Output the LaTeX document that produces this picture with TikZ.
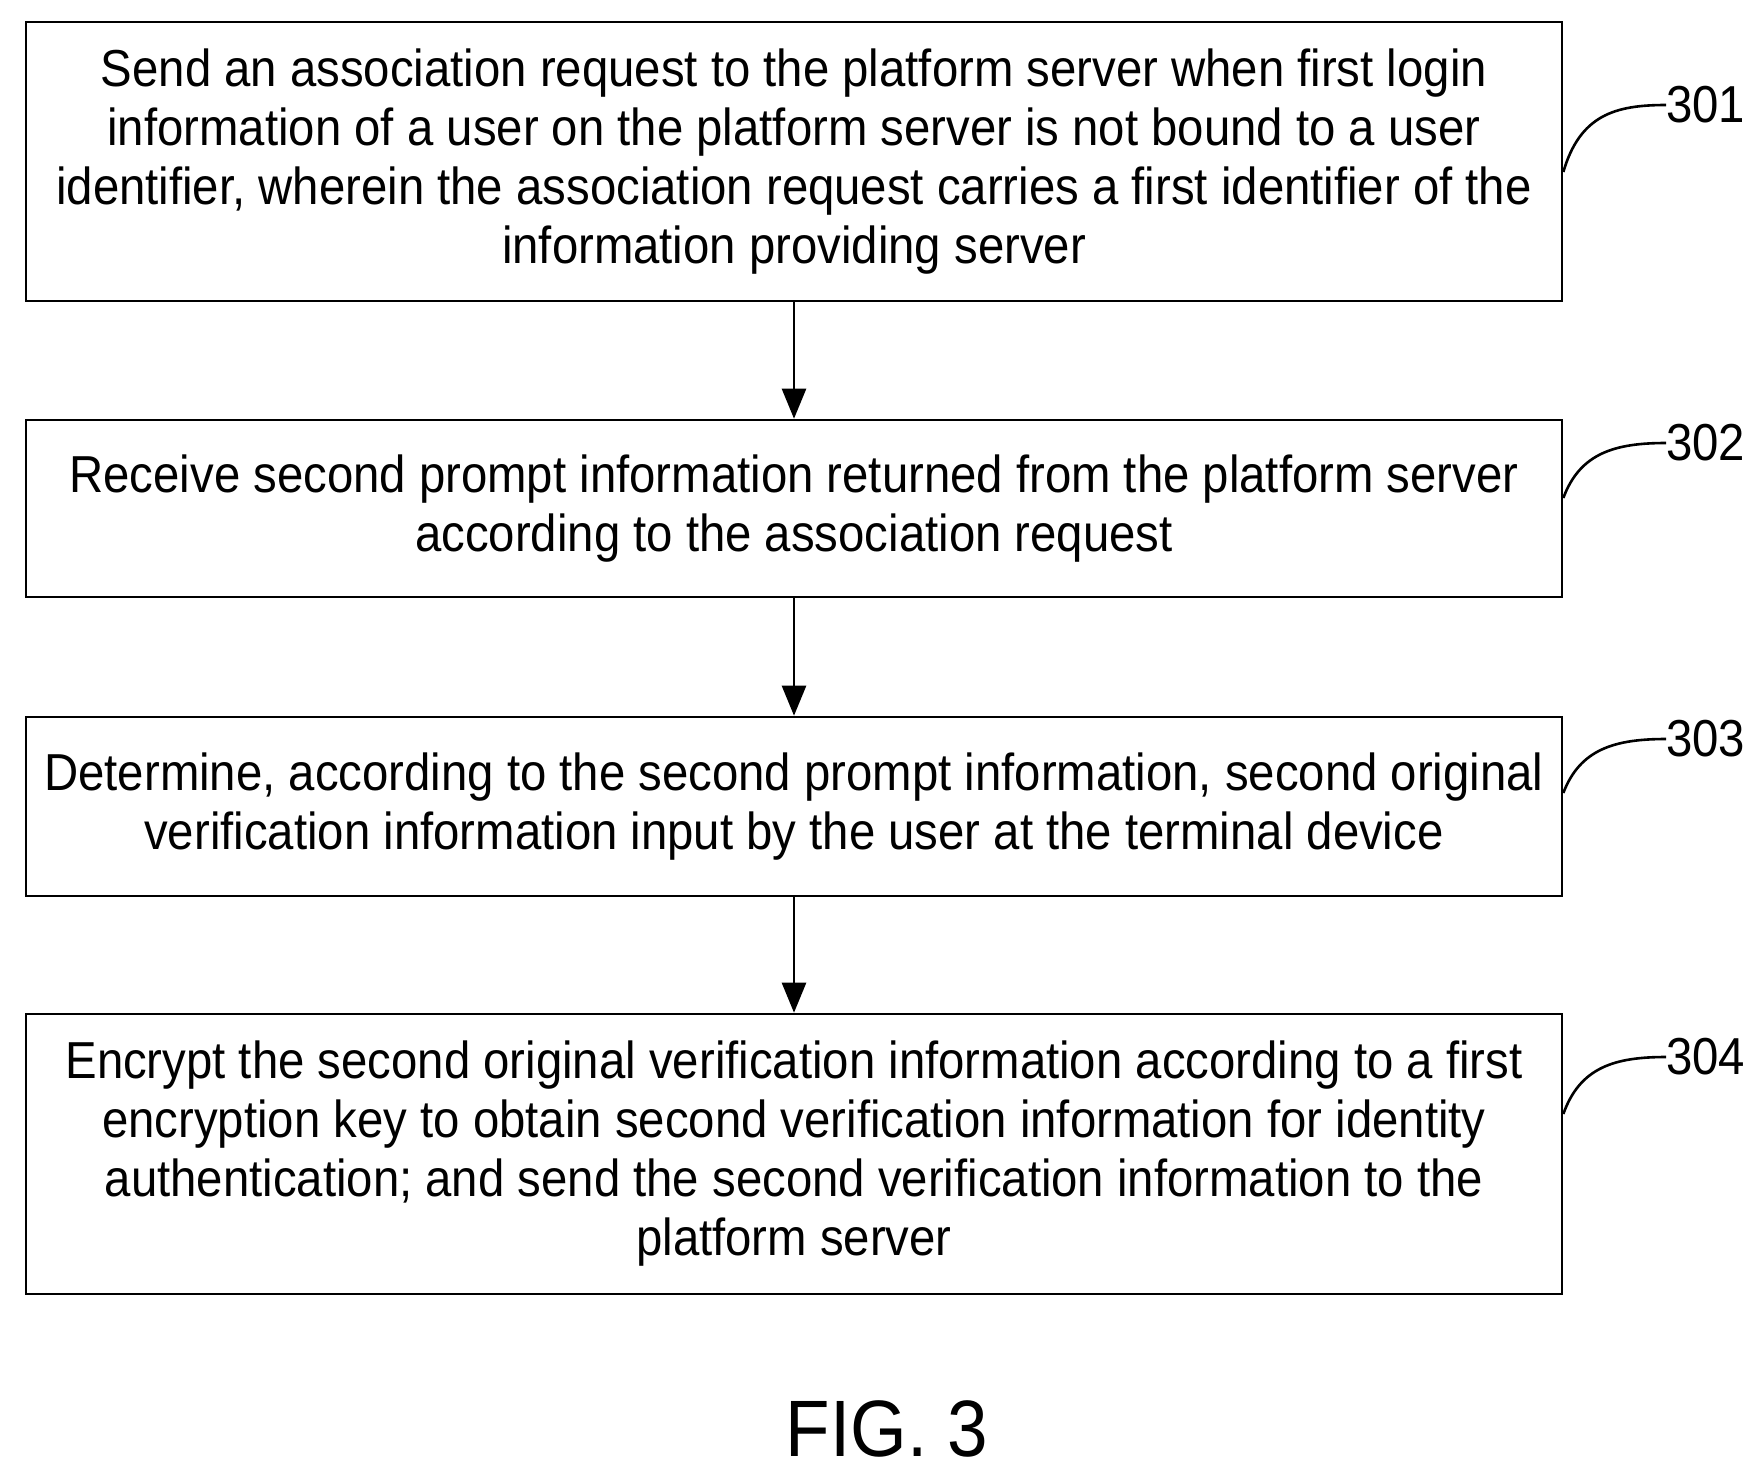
\documentclass[tikz,border=0pt]{standalone}
\usepackage{fontspec}
\usetikzlibrary{arrows.meta}
\setmainfont{Liberation Sans}[FakeStretch=0.91]
\begin{document}
\begin{tikzpicture}[x=1pt,y=-1pt,
  box/.style={draw,line width=2.6pt,align=center,font=\fontsize{52}{59}\selectfont,inner sep=0pt},
  lab/.style={font=\fontsize{52}{59}\selectfont,anchor=west,inner sep=0pt},
  arr/.style={line width=2.6pt,-{Triangle[length=30pt,width=24pt]}},
  lead/.style={line width=2.6pt}]
\useasboundingbox (0,0) rectangle (1758,1475);
\node[box,minimum width=1536,minimum height=279] (b1) at (794,161.5) {Send an association request to the platform server when first login\\information of a user on the platform server is not bound to a user\\identifier, wherein the association request carries a first identifier of the\\information providing server};
\node[box,minimum width=1536,minimum height=177] (b2) at (794,508.5) {Receive second prompt information returned from the platform server\\according to the association request};
\node[box,minimum width=1536,minimum height=179] (b3) at (794,806.5) {Determine, according to the second prompt information, second original\\verification information input by the user at the terminal device};
\node[box,minimum width=1536,minimum height=280] (b4) at (794,1154) {Encrypt the second original verification information according to a first\\encryption key to obtain second verification information for identity\\authentication; and send the second verification information to the\\platform server};
\draw[arr] (b1) -- (b2);
\draw[arr] (b2) -- (b3);
\draw[arr] (b3) -- (b4);
\foreach \b/\t/\y/\s in {b1/301/105/172, b2/302/443/498, b3/303/739/793, b4/304/1057/1114}{
  \node[lab] (l\t) at (1666,\y) {\t};
  \draw[lead] (b1.east |- 0,\s) .. controls (1580,\y+10) and (1615,\y) .. (l\t.west);
}
\node[font=\fontsize{80}{90}\selectfont] (fig) at (887,1429) {FIG. 3};
\end{tikzpicture}
\end{document}
